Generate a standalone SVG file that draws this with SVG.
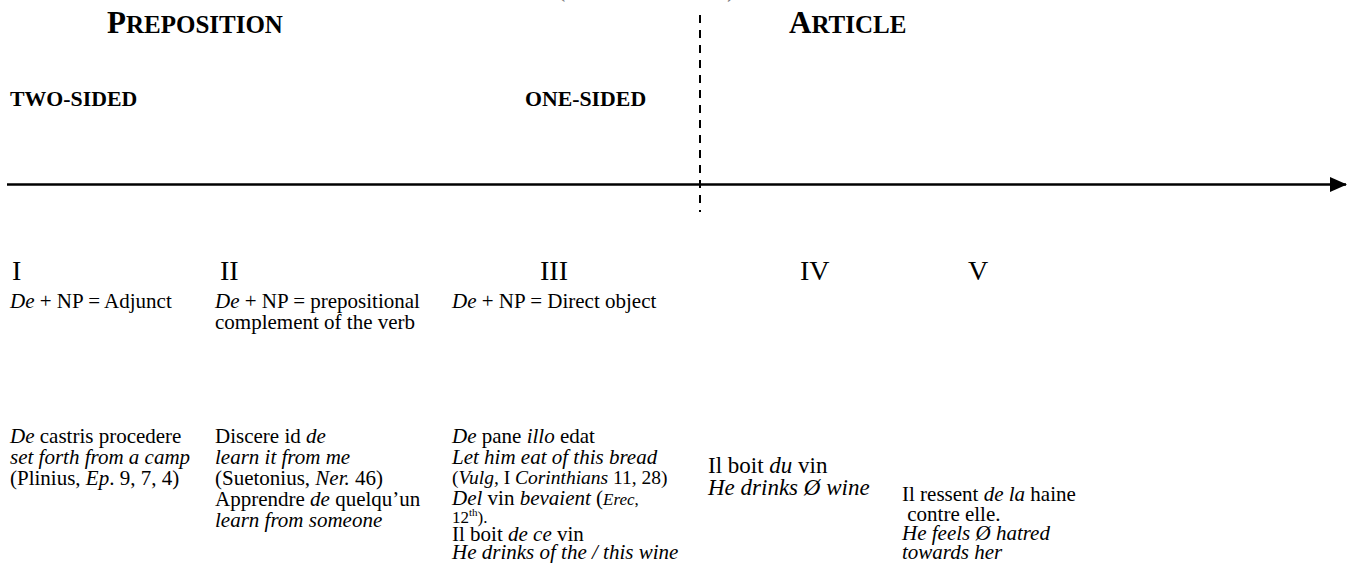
<svg xmlns="http://www.w3.org/2000/svg" width="1351" height="563" viewBox="0 0 1351 563">
<style>
text{font-family:"Liberation Serif","Times New Roman",serif;fill:#000;}
.t{font-size:21px;}
.i{font-style:italic;}
.b{font-weight:bold;}
.rn{font-size:28px;}
.sm{font-size:17px;}
</style>
<defs>
<marker id="ah" markerWidth="17" markerHeight="15" refX="16" refY="7.5" orient="auto" markerUnits="userSpaceOnUse">
<polygon points="0,0 17,7.5 0,15" fill="#000"/>
</marker>
</defs>
<rect width="1351" height="563" fill="#fff"/>
<g id="top-parens">
<text x="556" y="-4" style="font-size:28px;fill:#777">(</text>
<text x="727" y="-4" style="font-size:28px;fill:#777">)</text>
</g>
<g id="heading-preposition">
<text x="107" y="33" class="b"><tspan style="font-size:31px">P</tspan><tspan style="font-size:25px">REPOSITION</tspan></text>
</g>
<g id="heading-article">
<text x="789" y="33" class="b"><tspan style="font-size:31px">A</tspan><tspan style="font-size:25px">RTICLE</tspan></text>
</g>
<g id="label-two-sided"><text x="10" y="106" class="b" style="font-size:21.8px">TWO-SIDED</text></g>
<g id="label-one-sided"><text x="525" y="106" class="b" style="font-size:21.8px">ONE-SIDED</text></g>
<g id="connectors">
<line x1="7" y1="184.5" x2="1346" y2="184.5" stroke="#000" stroke-width="2.6" marker-end="url(#ah)"/>
<line x1="700" y1="15" x2="700" y2="212" stroke="#000" stroke-width="2" stroke-dasharray="8 7"/>
</g>
<g id="stage-I">
<text x="12" y="280" class="rn">I</text>
<text x="10" y="308" class="t"><tspan class="i">De</tspan> + NP = Adjunct</text>
<text class="t" x="10" y="443"><tspan class="i">De</tspan> castris procedere</text>
<text class="t i" x="10" y="464">set forth from a camp</text>
<text class="t" x="10" y="485">(Plinius, <tspan class="i">Ep</tspan>. 9, 7, 4)</text>
</g>
<g id="stage-II">
<text x="220" y="280" class="rn">II</text>
<text x="215" y="308" class="t"><tspan class="i">De</tspan> + NP = prepositional</text>
<text x="215" y="329" class="t">complement of the verb</text>
<text class="t" x="215" y="443">Discere id <tspan class="i">de</tspan></text>
<text class="t i" x="215" y="464">learn it from me</text>
<text class="t" x="215" y="485">(Suetonius, <tspan class="i">Ner.</tspan> 46)</text>
<text class="t" x="215" y="506">Apprendre <tspan class="i">de</tspan> quelqu’un</text>
<text class="t i" x="215" y="527">learn from someone</text>
</g>
<g id="stage-III">
<text x="540" y="280" class="rn">III</text>
<text x="452" y="308" class="t"><tspan class="i">De</tspan> + NP = Direct object</text>
<text class="t" x="452" y="443"><tspan class="i">De</tspan> pane <tspan class="i">illo</tspan> edat</text>
<text class="t i" x="452" y="464">Let him eat of this bread</text>
<text x="452" y="484" style="font-size:19.5px">(<tspan class="i">Vulg,</tspan> I <tspan class="i">Corinthians</tspan> 11, 28)</text>
<text class="t" x="452" y="505"><tspan class="i">Del</tspan> vin <tspan class="i">bevaient</tspan> (<tspan class="i sm">Erec</tspan><tspan class="sm">,</tspan></text>
<text class="sm" x="452" y="523">12<tspan style="font-size:11px" dy="-7">th</tspan><tspan dy="7">).</tspan></text>
<text class="t" x="452" y="541">Il boit <tspan class="i">de ce</tspan> vin</text>
<text class="t i" x="452" y="559">He drinks of the / this wine</text>
</g>
<g id="stage-IV">
<text x="800" y="280" class="rn">IV</text>
<text x="708" y="473" style="font-size:23px">Il boit <tspan class="i">du</tspan> vin</text>
<text x="708" y="495" class="i" style="font-size:23px">He drinks Ø wine</text>
</g>
<g id="stage-V">
<text x="968" y="280" class="rn">V</text>
<text class="t" x="902" y="501">Il ressent <tspan class="i">de la</tspan> haine</text>
<text class="t" x="902" y="521" xml:space="preserve"> contre elle.</text>
<text class="t i" x="902" y="540">He feels Ø hatred</text>
<text class="t i" x="902" y="559">towards her</text>
</g>
</svg>
